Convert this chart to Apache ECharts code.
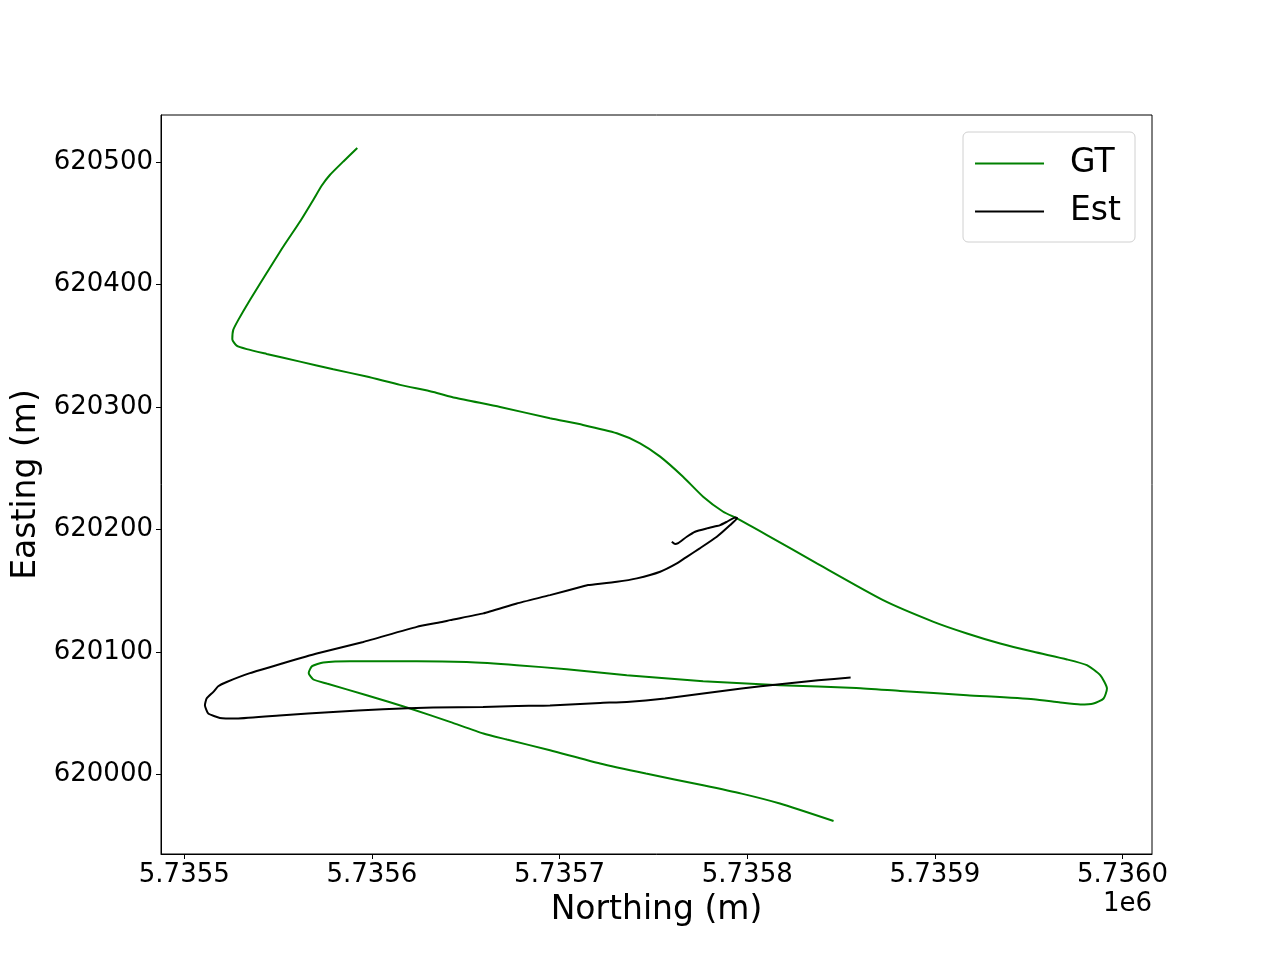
<!DOCTYPE html>
<html><head><meta charset="utf-8">
<script src="https://cdn.jsdelivr.net/npm/echarts@6/dist/echarts.min.js"></script>
<style>html,body{margin:0;padding:0;background:#fff}#c{width:1280px;height:960px}</style>
</head><body><div id="c"></div>
<script>
const gtNorthing = [5735592.2,5735584.8,5735577.7,5735573.2,5735568.8,5735561.7,5735552.8,5735543.9,5735535.0,5735528.8,5735526.1,5735525.6,5735527.9,5735533.3,5735543.9,5735561.7,5735579.4,5735597.2,5735615.0,5735632.7,5735644.3,5735668.3,5735694.9,5735712.5,5735730.5,5735742.9,5735753.6,5735765.8,5735776.5,5735787.2,5735794.5,5735810.5,5735837.1,5735872.4,5735899.3,5735917.1,5735934.8,5735952.6,5735970.4,5735981.0,5735988.1,5735991.7,5735989.9,5735984.5,5735977.5,5735966.8,5735952.6,5735917.1,5735881.5,5735858.1,5735817.4,5735776.5,5735735.8,5735703.8,5735677.2,5735650.5,5735623.9,5735588.3,5735574.1,5735568.1,5735566.3,5735568.8,5735575.9,5735597.2,5735620.3,5735641.6,5735659.4,5735671.9,5735694.9,5735721.6,5735746.0,5735776.5,5735797.0,5735817.4,5735846.0];
const gtEasting = [620511.4,620500.5,620489.6,620480.6,620469.2,620451.4,620431.0,620409.3,620387.4,620371.1,620362.9,620355.3,620350.1,620347.2,620343.3,620337.0,620330.8,620324.8,620318.0,620312.2,620307.5,620300.0,620290.7,620285.3,620278.5,620270.3,620259.4,620243.0,620226.7,620214.4,620209.0,620195.4,620172.2,620142.2,620124.5,620115.0,620106.8,620100.0,620093.8,620089.1,620080.9,620070.0,620061.9,620057.8,620057.0,620058.6,620061.3,620064.6,620068.1,620070.5,620072.8,620076.0,620080.9,620085.8,620089.1,620091.6,620092.4,620092.4,620091.3,620088.3,620082.8,620077.4,620074.1,620064.6,620053.7,620042.8,620033.3,620028.4,620019.6,620008.8,620000.6,619991.0,619984.2,619976.1,619961.8];
const estNorthing = [5735759.8,5735761.6,5735763.2,5735767.8,5735772.2,5735778.5,5735783.8,5735785.6,5735789.1,5735793.6,5735794.6,5735790.9,5735783.8,5735774.9,5735767.8,5735762.5,5735753.6,5735741.2,5735730.5,5735715.2,5735713.6,5735694.9,5735677.2,5735659.4,5735641.6,5735637.9,5735623.9,5735595.4,5735570.6,5735552.6,5735535.0,5735522.6,5735518.1,5735515.5,5735511.9,5735511.0,5735512.8,5735519.0,5735527.9,5735552.6,5735579.3,5735605.9,5735632.6,5735659.2,5735677.2,5735694.9,5735721.6,5735735.8,5735756.2,5735776.5,5735797.0,5735817.4,5735837.8,5735855.1];
const estEasting = [620189.9,620188.0,620188.8,620194.0,620198.1,620200.8,620202.7,620203.5,620206.2,620209.8,620209.3,620203.5,620194.0,620184.7,620177.6,620172.2,620165.4,620160.0,620157.2,620154.5,620153.9,620146.3,620139.5,620131.4,620125.9,620124.5,620120.4,620108.1,620098.7,620090.7,620082.6,620075.4,620071.9,620067.3,620061.9,620056.4,620049.6,620046.0,620045.5,620048.2,620050.9,620053.1,620054.5,620055.0,620055.8,620056.2,620058.3,620059.1,620061.9,620066.0,620070.1,620073.6,620076.8,620079.0];
const xTicks = [5735500,5735600,5735700,5735800,5735900,5736000];
const yTicks = [620000,620100,620200,620300,620400,620500];
const seriesNames = ['GT','Est'];

const zip = (a,b) => a.map((v,i) => [v,b[i]]);
const FONT = 'DejaVu Sans';
const chart = echarts.init(document.getElementById('c'), null, {renderer:'canvas'});
chart.setOption({
  animation:false,
  backgroundColor:'#fff',
  grid:{left:161, top:115, width:991, height:739, show:true, borderColor:'#000', borderWidth:1, containLabel:false},
  xAxis:{type:'value', min:5735487.6, max:5736015.7,
    name:'Northing (m)', nameLocation:'middle', nameGap:40,
    nameTextStyle:{fontFamily:FONT, fontSize:33, color:'#000', verticalAlign:'top'},
    axisLine:{show:true, lineStyle:{color:'#000', width:1}},
    axisTick:{show:true, inside:false, length:5, lineStyle:{color:'#000'}, customValues:xTicks},
    axisLabel:{fontFamily:FONT, fontSize:26, color:'#000', margin:8, customValues:xTicks,
      formatter:v => (v/1e6).toFixed(4)},
    splitLine:{show:false}},
  yAxis:{type:'value', min:619934.9, max:620538.4,
    name:'Easting (m)', nameLocation:'middle', nameGap:116, nameRotate:90,
    nameTextStyle:{fontFamily:FONT, fontSize:33, color:'#000'},
    axisLine:{show:true, lineStyle:{color:'#000', width:1}},
    axisTick:{show:true, inside:false, length:5, lineStyle:{color:'#000'}, customValues:yTicks},
    axisLabel:{fontFamily:FONT, fontSize:26, color:'#000', margin:8, customValues:yTicks,
      formatter:v => String(Math.round(v))},
    splitLine:{show:false}},
  legend:{show:true, orient:'vertical', right:145, top:132, data:seriesNames,
    icon:'rect', itemWidth:69, itemHeight:2, itemGap:15,
    padding:[15,14,14,12],
    backgroundColor:'rgba(255,255,255,0.8)', borderColor:'#d0d0d0', borderWidth:1, borderRadius:5,
    textStyle:{fontFamily:FONT, fontSize:33, color:'#000', padding:[0,0,0,21]}},
  graphic:[{type:'text', right:128, top:891, style:{text:'1e6', font:'26px "DejaVu Sans"', fill:'#000', textAlign:'right'}}],
  series:[
    {name:seriesNames[0], type:'line', data:zip(gtNorthing,gtEasting), symbol:'none', smooth:0.2,
     lineStyle:{color:'#008000', width:2}, itemStyle:{color:'#008000'}, clip:true},
    {name:seriesNames[1], type:'line', data:zip(estNorthing,estEasting), symbol:'none', smooth:0.15,
     lineStyle:{color:'#000000', width:2}, itemStyle:{color:'#000000'}, clip:true}
  ]
});
</script></body></html>
